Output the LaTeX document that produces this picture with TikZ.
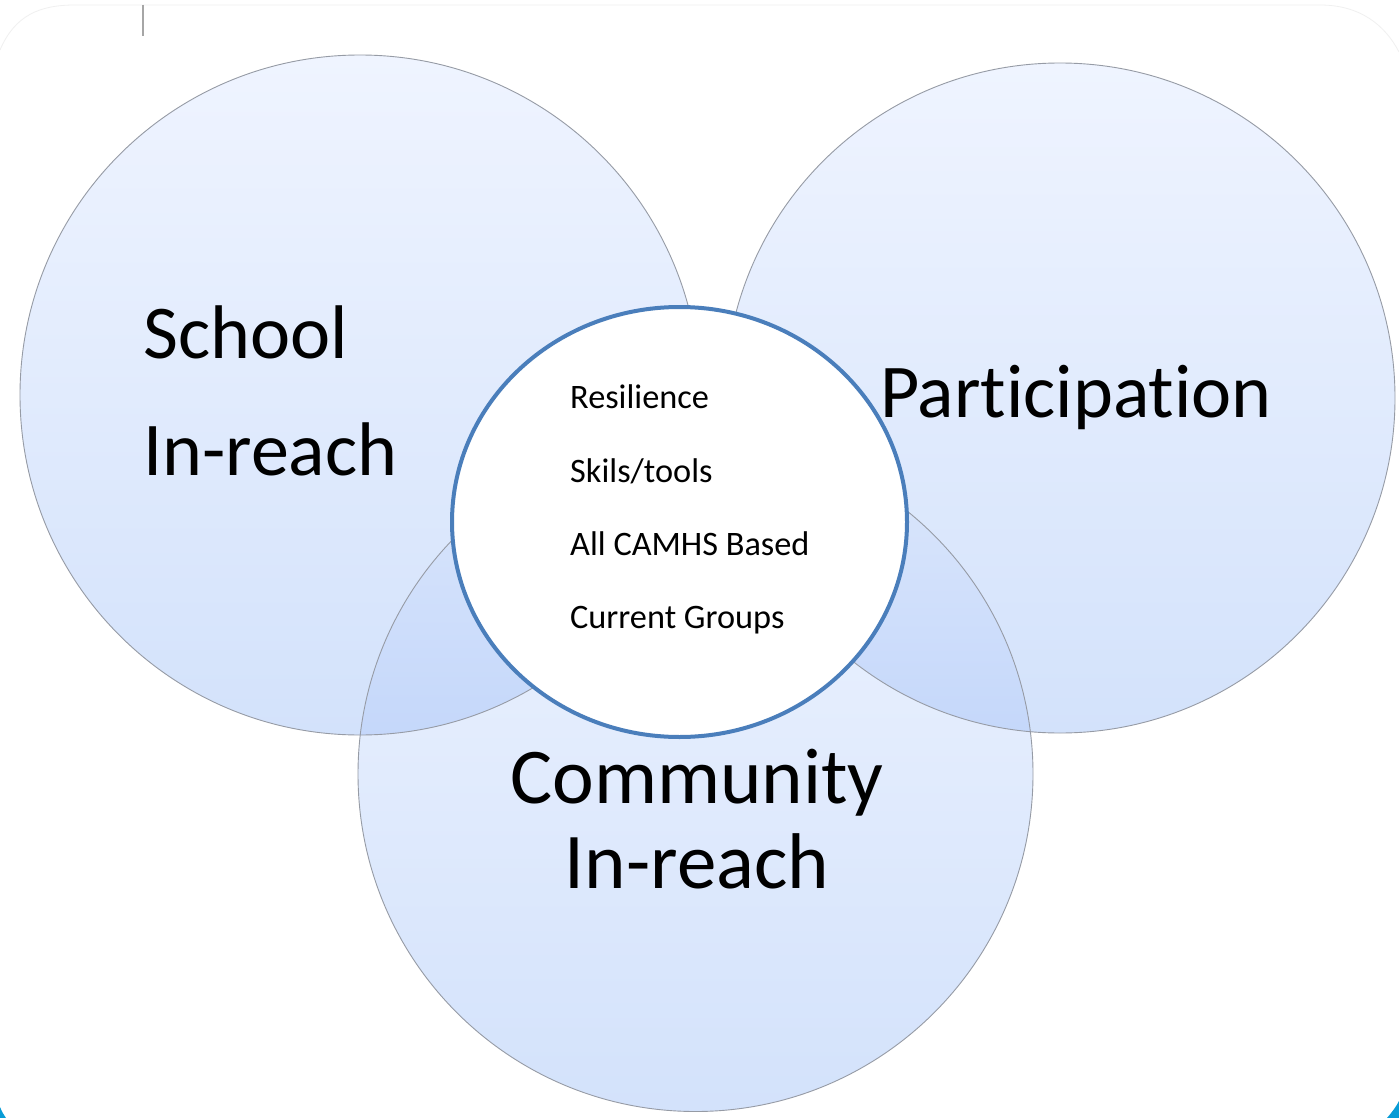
\documentclass[tikz,border=0pt]{standalone}
\usepackage{fontspec}
\setmainfont[Ligatures={NoCommon}]{Carlito}
\usetikzlibrary{shapes.geometric}
\definecolor{ctop}{RGB}{239,244,255}
\definecolor{cbot}{RGB}{211,226,251}
\definecolor{otop}{RGB}{221,232,252}
\definecolor{obot}{RGB}{196,215,250}
\definecolor{rimgray}{RGB}{150,155,165}
\definecolor{ringblue}{RGB}{74,126,187}
\definecolor{cornerblue}{RGB}{8,156,214}
\tikzset{
  bubble/.style={circle, inner sep=0pt, outer sep=0pt, top color=ctop, bottom color=cbot, draw=none},
  rim/.style={draw=rimgray, line width=0.9pt},
  bigtxt/.style={inner sep=0pt, font=\fontsize{76}{90}\selectfont},
  bottxt/.style={inner sep=0pt, font=\fontsize{79}{94}\selectfont},
  smalltxt/.style={inner sep=0pt, anchor=base west, font=\fontsize{34.3}{40}\selectfont},
  overlap/.style={top color=otop, bottom color=obot},
}
\begin{document}
\begin{tikzpicture}[x=1pt,y=-1pt]
\useasboundingbox (0,0) rectangle (1399,1118);
\fill[white] (0,0) rectangle (1399,1118);
% faint frame top
\draw[gray!12, line width=0.8pt] (0,50) .. controls (15,15) and (40,5) .. (75,5) -- (1320,5) .. controls (1360,5) and (1385,25) .. (1399,52);
\draw[gray!70, line width=1.5pt] (143,5) -- (143,36);
% bottom blue corners
\fill[cornerblue] (0,1107) .. controls (2,1112) and (4,1115) .. (6,1118) -- (0,1118) -- cycle;
\fill[cornerblue] (1387,1118) .. controls (1392,1112) and (1396,1107) .. (1399,1101) -- (1399,1118) -- cycle;
% circles
\node[bubble, minimum size=680pt] (L) at (360,395) {};
\node[bubble, minimum size=670pt] (R) at (1060,398) {};
\node[bubble, minimum size=675pt] (B) at (695.5,774) {};
% overlaps
\begin{scope}
  \clip (L.center) circle[radius=340];
  \clip (B.center) circle[radius=337.5];
  \shade[overlap] (340,430) rectangle (720,740);
\end{scope}
\begin{scope}
  \clip (R.center) circle[radius=335];
  \clip (B.center) circle[radius=337.5];
  \shade[overlap] (700,440) rectangle (1040,740);
\end{scope}
\draw[rim] (L.center) circle[radius=340];
\draw[rim] (R.center) circle[radius=335];
\draw[rim] (B.center) circle[radius=337.5];
% centre
\node[ellipse, inner sep=0pt, minimum width=455pt, minimum height=430pt, fill=white, draw=ringblue, line width=4pt] (C) at (679.5,522) {};
% texts
\node[bigtxt, anchor=base west] (t1) at (143,358) {School};
\node[bigtxt, anchor=base west] (t2) at (143,475) {In-reach};
\node[bigtxt, anchor=base west] (t3) at (880,417) {Participation};
\node[bottxt, anchor=base] (t4) at (697,803) {Community};
\node[bottxt, anchor=base] (t5) at (697,888) {In-reach};
\node[smalltxt] (s1) at (570,408) {Resilience};
\node[smalltxt] (s2) at (570,482) {Skils/tools};
\node[smalltxt] (s3) at (570,555) {All CAMHS Based};
\node[smalltxt] (s4) at (570,628) {Current Groups};
\end{tikzpicture}
\end{document}
